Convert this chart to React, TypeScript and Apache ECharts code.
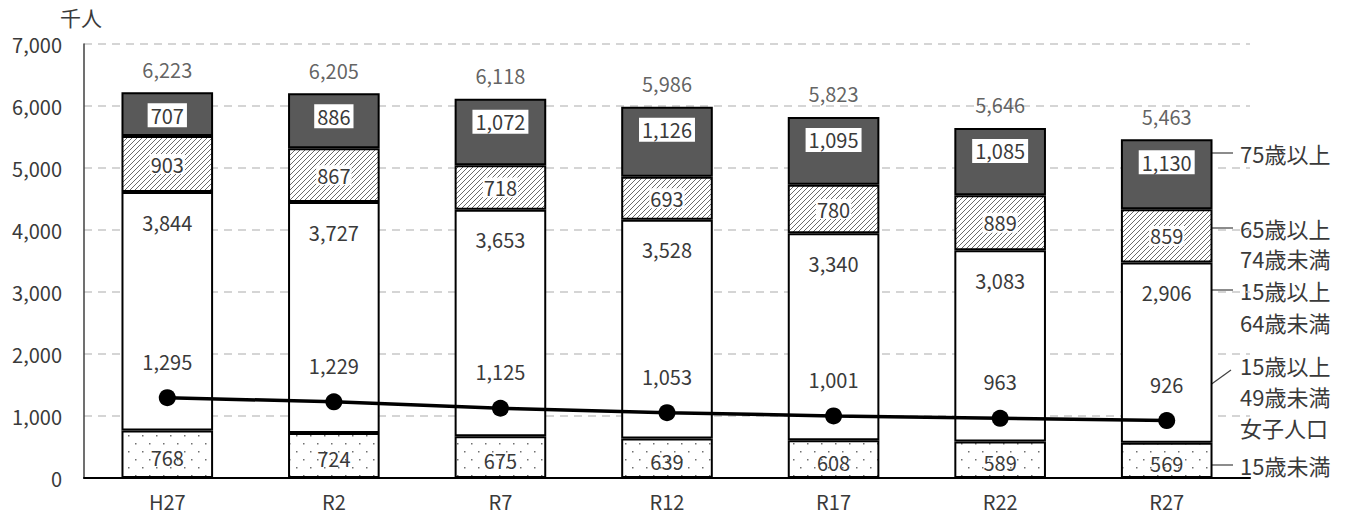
import React, { useEffect, useRef } from "react";
import * as echarts from "echarts";

const categories = ["H27", "R2", "R7", "R12", "R17", "R22", "R27"];
const under15 = [768, 724, 675, 639, 608, 589, 569];
const age15to64 = [3844, 3727, 3653, 3528, 3340, 3083, 2906];
const age65to74 = [903, 867, 718, 693, 780, 889, 859];
const age75plus = [707, 886, 1072, 1126, 1095, 1085, 1130];
const totals = [6223, 6205, 6118, 5986, 5823, 5646, 5463];
const women15to49 = [1295, 1229, 1125, 1053, 1001, 963, 926];

const FONT = "'Noto Sans CJK JP', 'Noto Sans', sans-serif";
const TXT = "#3a3a3a";

function makeHatch(): HTMLCanvasElement {
  const c = document.createElement("canvas");
  c.width = 5;
  c.height = 5;
  const g = c.getContext("2d")!;
  g.fillStyle = "#ffffff";
  g.fillRect(0, 0, 5, 5);
  g.strokeStyle = "#6a6a6a";
  g.lineWidth = 1;
  g.beginPath();
  g.moveTo(0, 5);
  g.lineTo(5, 0);
  g.moveTo(-2.5, 2.5);
  g.lineTo(2.5, -2.5);
  g.moveTo(2.5, 7.5);
  g.lineTo(7.5, 2.5);
  g.stroke();
  return c;
}

function makeDots(): HTMLCanvasElement {
  const c = document.createElement("canvas");
  c.width = 14;
  c.height = 16;
  const g = c.getContext("2d")!;
  g.fillStyle = "#ffffff";
  g.fillRect(0, 0, 14, 16);
  g.fillStyle = "#707070";
  g.fillRect(2, 3, 1.5, 1.5);
  g.fillRect(9, 11, 1.5, 1.5);
  return c;
}

export default function App() {
  const ref = useRef<HTMLDivElement>(null);
  useEffect(() => {
    document.body.style.margin = "0";
    if (!ref.current) return;
    const chart = echarts.init(ref.current, undefined, { renderer: "svg" });
    const hatch = makeHatch();
    const dots = makeDots();
    const numLabel = { fontFamily: FONT, fontSize: 20, color: TXT };
    const fmt = (p: any) => Number(p.value).toLocaleString("en-US");
    const barBorder = { borderColor: "#000000", borderWidth: 2 };

    const rightTexts: [string, number][] = [
      ["75歳以上", 153],
      ["65歳以上", 228],
      ["74歳未満", 258],
      ["15歳以上", 290],
      ["64歳未満", 322],
      ["15歳以上", 365],
      ["49歳未満", 396],
      ["女子人口", 427],
      ["15歳未満", 465],
    ];
    const leaders: number[][] = [
      [1211, 153, 1233, 153],
      [1211, 228, 1233, 228],
      [1211, 290, 1233, 290],
      [1211, 465, 1233, 465],
      [1170, 414, 1231, 370],
    ];

    chart.setOption({
      animation: false,
      grid: { left: 84, right: 102, top: 44, bottom: 39 },
      xAxis: {
        type: "category",
        data: categories,
        axisLine: { lineStyle: { color: "#000000", width: 2 } },
        axisTick: { show: false },
        axisLabel: { fontFamily: FONT, fontSize: 20, color: TXT, margin: 13, lineHeight: 20 },
      },
      yAxis: {
        type: "value",
        min: 0,
        max: 7000,
        interval: 1000,
        axisLine: { show: true, lineStyle: { color: "#404040", width: 1.5 } },
        axisTick: { show: false },
        axisLabel: {
          fontFamily: FONT,
          fontSize: 20,
          color: TXT,
          margin: 22,
          formatter: (v: number) => v.toLocaleString("en-US"),
        },
        splitLine: {
          lineStyle: { color: "#c8c8c8", width: 1.5, type: [8, 6] },
        },
      },
      graphic: [
        {
          type: "text",
          left: 60,
          top: 6,
          style: { text: "千人", fontFamily: FONT, fontSize: 21, fill: TXT },
        },
        ...rightTexts.map(([t, y]) => ({
          type: "text",
          x: 1240,
          y,
          style: {
            text: t,
            fontFamily: FONT,
            fontSize: 22,
            fill: TXT,
            verticalAlign: "middle",
            align: "left",
          },
        })),
        ...leaders.map((l) => ({
          type: "line",
          shape: { x1: l[0], y1: l[1], x2: l[2], y2: l[3] },
          style: { stroke: "#404040", lineWidth: 1.2 },
        })),
      ],
      series: [
        {
          name: "15歳未満",
          type: "bar",
          stack: "pop",
          barWidth: "55%",
          data: under15,
          itemStyle: { color: { image: dots, repeat: "repeat" }, ...barBorder },
          label: { show: true, position: "inside", offset: [0, 3], formatter: fmt, ...numLabel },
        },
        {
          name: "15歳以上64歳未満",
          type: "bar",
          stack: "pop",
          data: age15to64,
          itemStyle: { color: "#ffffff", ...barBorder },
          label: { show: true, position: "insideTop", distance: 20, formatter: fmt, ...numLabel },
        },
        {
          name: "65歳以上74歳未満",
          type: "bar",
          stack: "pop",
          data: age65to74,
          itemStyle: { color: { image: hatch, repeat: "repeat" }, ...barBorder },
          label: {
            show: true,
            position: "inside",
            formatter: fmt,
            backgroundColor: "#ffffff",
            padding: [0, 1],
            ...numLabel,
          },
        },
        {
          name: "75歳以上",
          type: "bar",
          stack: "pop",
          data: age75plus,
          itemStyle: { color: "#595959", ...barBorder },
          label: {
            show: true,
            position: "insideTop",
            distance: 11,
            formatter: fmt,
            backgroundColor: "#ffffff",
            padding: [2, 3],
            ...numLabel,
          },
        },
        {
          name: "総数",
          type: "scatter",
          data: totals,
          symbolSize: 0,
          itemStyle: { color: "transparent" },
          label: { show: true, position: "top", distance: 13, formatter: fmt, ...numLabel },
          z: 5,
        },
        {
          name: "15歳以上49歳未満女子人口",
          type: "line",
          data: women15to49,
          symbol: "circle",
          symbolSize: 17,
          itemStyle: { color: "#000000" },
          lineStyle: { color: "#000000", width: 3.5 },
          label: { show: true, position: "top", distance: 18, formatter: fmt, ...numLabel },
          z: 6,
        },
      ],
    });
    return () => chart.dispose();
  }, []);
  return <div ref={ref} style={{ width: 1352, height: 517 }} />;
}
